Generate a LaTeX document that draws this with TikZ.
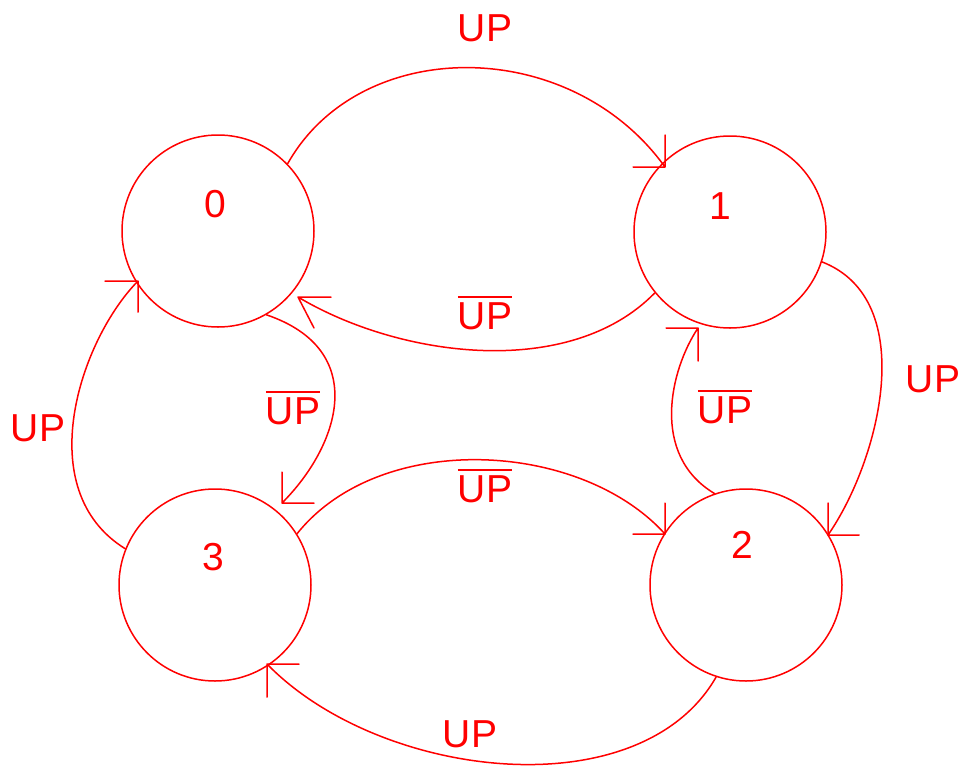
\documentclass[tikz,border=0pt]{standalone}
\usepackage{fontspec}
\setmainfont{Liberation Sans}
% text with a bar over it (the negated input)
\newcommand{\negated}[1]{\setbox0=\hbox{#1}\rlap{\raisebox{\dimexpr\ht0+4.5pt\relax}{\rule{\wd0}{1.5pt}}}\box0}
\tikzset{
  wire/.style={draw=red, line width=1.5pt, line cap=round, line join=round},
  statebox/.style={circle, draw=red, line width=1.5pt, minimum size=192pt, inner sep=0pt},
  lbl/.style={text=red, font=\fontsize{39}{40}\selectfont, inner sep=0pt, anchor=base},
}
\begin{document}
\begin{tikzpicture}[x=1pt, y=-1pt]
\useasboundingbox (0,0) rectangle (959,769);

% states
\node[statebox] (s0) at (218,231) {};
\node[statebox] (s1) at (730,232) {};
\node[statebox] (s2) at (746,585) {};
\node[statebox] (s3) at (215,585) {};

\node[lbl] (n0) at (215,217) {0};
\node[lbl] (n1) at (720,219) {1};
\node[lbl] (n2) at (742,558) {2};
\node[lbl] (n3) at (213,570) {3};

% arrow tips
\coordinate (t01) at (665,167);
\coordinate (t10) at (298,297);
\coordinate (t03) at (282,503);
\coordinate (t30) at (138,281);
\coordinate (t12) at (828,535);
\coordinate (t21) at (698,328);
\coordinate (t32) at (665,534);
\coordinate (t23) at (267,664);

% transitions, each ending in a square-cornered head
\draw[wire] (s0.44) .. controls (360,35) and (570,35) .. (t01)
  -- ++(-32,0) (t01) -- ++(0,-32);
\draw[wire] (s1.219) .. controls (570,380) and (400,358) .. (t10)
  -- ++(33,0) (t10) -- ++(16,31);
\draw[wire] (s0.300) .. controls (370,350) and (340,445) .. (t03)
  -- ++(0,-31) (t03) -- ++(32,0);
\draw[wire] (s3.158) .. controls (30,490) and (80,340) .. (t30)
  -- ++(-33,0) (t30) -- ++(0,31);
\draw[wire] (s1.342) .. controls (920,300) and (880,460) .. (t12)
  -- ++(0,-32) (t12) -- ++(31,0);
\draw[wire] (s2.109) .. controls (650,455) and (670,370) .. (t21)
  -- ++(-32,0) (t21) -- ++(0,33);
\draw[wire] (s3.32) .. controls (380,430) and (580,440) .. (t32)
  -- ++(0,-31) (t32) -- ++(-32,0);
\draw[wire] (s2.252) .. controls (640,810) and (380,780) .. (t23)
  -- ++(32,0) (t23) -- ++(0,33);

% inputs
\node[lbl] (l01) at (485,41) {UP};
\node[lbl] (l10) at (485,329) {\negated{UP}};
\node[lbl] (l12) at (933,392) {UP};
\node[lbl] (l21) at (725,423) {\negated{UP}};
\node[lbl] (l03) at (293,424) {\negated{UP}};
\node[lbl] (l32) at (485,502) {\negated{UP}};
\node[lbl] (l30) at (38,441) {UP};
\node[lbl] (l23) at (470,747) {UP};
\end{tikzpicture}
\end{document}
